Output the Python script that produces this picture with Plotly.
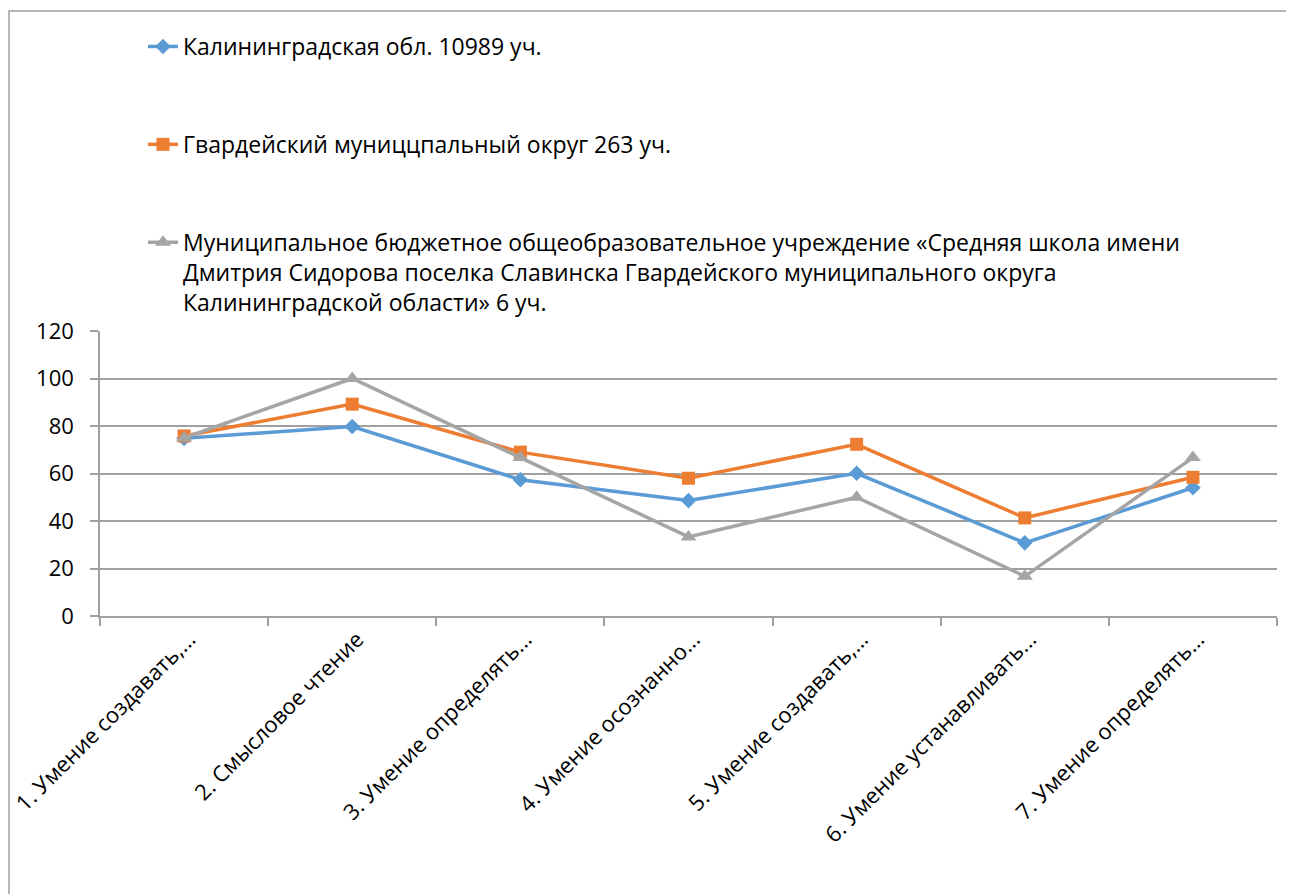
import plotly.graph_objects as go

categories = [
    "1. Умение создавать,...",
    "2. Смысловое чтение",
    "3. Умение определять...",
    "4. Умение осознанно...",
    "5. Умение создавать,...",
    "6. Умение устанавливать...",
    "7. Умение определять...",
]
series_names = [
    "Калининградская обл. 10989 уч.",
    "Гвардейский муниццпальный округ 263 уч.",
    "Муниципальное бюджетное общеобразовательное учреждение «Средняя школа имени<br>Дмитрия Сидорова поселка Славинска Гвардейского муниципального округа<br>Калининградской области» 6 уч.",
]
kaliningrad = [74.8, 79.8, 57.4, 48.6, 60.1, 30.8, 54.0]
gvardeisk = [75.8, 89.2, 69.0, 58.0, 72.3, 41.3, 58.4]
school = [75.0, 100.0, 66.7, 33.3, 50.0, 16.7, 66.7]
y_ticks = [0, 20, 40, 60, 80, 100, 120]

colors = ["#5b9bd5", "#ed7d31", "#a5a5a5"]
symbols = ["diamond", "square", "triangle-up"]
sizes = [12, 13, 14]

fig = go.Figure()
for i, (name, vals) in enumerate(zip(series_names, [kaliningrad, gvardeisk, school])):
    fig.add_trace(go.Scatter(
        x=categories, y=vals, name=name, mode="lines+markers",
        line=dict(color=colors[i], width=3.5),
        marker=dict(symbol=symbols[i], size=sizes[i], color=colors[i]),
        legendgroup=f"g{i}",
    ))

# page body has an 8px margin, so the figure is drawn at (8, 8)
W, H = 1286, 886
ml, mr, mt, mb = 92, 17, 323, 278
pw, ph = W - ml - mr, H - mt - mb

fig.update_layout(
    width=W, height=H,
    margin=dict(l=ml, r=mr, t=mt, b=mb, autoexpand=False),
    paper_bgcolor="white", plot_bgcolor="white",
    font=dict(family="Open Sans", size=21, color="black"),
    showlegend=True,
    legend=dict(
        xref="container", yref="container",
        x=135 / W, y=1 - 17 / H, xanchor="left", yanchor="top",
        font=dict(size=23), tracegroupgap=65, valign="top",
        bgcolor="rgba(0,0,0,0)",
    ),
    xaxis=dict(
        type="category", showgrid=False, showline=True, linecolor="#a0a0a0", linewidth=1.5,
        ticks="outside", tickson="boundaries", ticklen=8, tickcolor="#a0a0a0", tickwidth=1.5,
        tickangle=-45, tickfont=dict(size=22), range=[-0.5, 6.5], automargin=False,
        ticklabelstandoff=0, ticklabelshift=5,
    ),
    yaxis=dict(
        range=[0, 120], tickvals=y_ticks, showgrid=True, gridcolor="#a0a0a0", gridwidth=1.5,
        showline=True, linecolor="#a0a0a0", linewidth=1.5, ticks="outside", ticklen=8,
        tickcolor="#a0a0a0", tickwidth=1.5, tickfont=dict(size=22), zeroline=False,
        automargin=False, ticklabelstandoff=12,
    ),
)

# chart border
fig.add_shape(type="rect", xref="paper", yref="paper",
              x0=(1 - ml) / pw, x1=(W + 20 - ml) / pw,
              y0=-(H + 20 - (mt + ph)) / ph, y1=(mt + ph - 3) / ph,
              line=dict(color="#a0a0a0", width=1.5), layer="below")

fig.write_html("out.html")
